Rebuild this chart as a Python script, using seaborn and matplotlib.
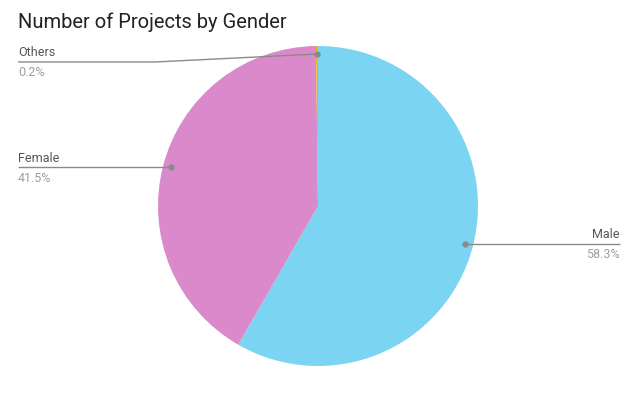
import numpy as np
import matplotlib.pyplot as plt
import seaborn as sns

# данные
genders = ['Male', 'Female', 'Others']
shares = [58.3, 41.5, 0.2]
colors = ['#7ad4f2', '#da8aca', '#f6b400']

sns.set_theme(style='white')
plt.rcParams['font.family'] = ['Roboto', 'DejaVu Sans']

W, H = 644, 393
fig = plt.figure(figsize=(W / 100, H / 100), dpi=100)
ax = fig.add_axes([0, 0, 1, 1])

cx, cy, r = 318, H - 206, 160
wedges, _ = ax.pie(shares, colors=colors, startangle=90, counterclock=False,
                   center=(cx, cy), radius=r, wedgeprops=dict(linewidth=0))
ax.set_xlim(0, W)
ax.set_ylim(0, H)
ax.set_aspect('equal')
ax.axis('off')

fig.text(18 / W, 1 - 22 / H, 'Number of Projects by Gender', fontsize=14.5,
         color='#212121', va='center', ha='left')

# подписи с выносками: (y линии в пикселях, сторона, x излома)
label_rows = {'Male': (244, 'right', None), 'Female': (167, 'left', None),
              'Others': (62, 'left', 155)}
total = sum(shares)
for w, name, val in zip(wedges, genders, shares):
    mid = np.deg2rad((w.theta1 + w.theta2) / 2)
    px, py = cx + 0.95 * r * np.cos(mid), cy + 0.95 * r * np.sin(mid)
    ly, side, elbow = label_rows[name]
    ly = H - ly
    tx = 620 if side == 'right' else 18
    xs, ys = [px], [py]
    if elbow is not None:
        xs.append(elbow)
        ys.append(ly)
    else:
        ys[0] = ly
        py = ly
    xs.append(tx)
    ys.append(ly)
    ax.plot(xs, ys, color='#8a8a8a', lw=1.0, solid_capstyle='butt')
    ax.plot(px, py, 'o', color='#8a8a8a', ms=3.5)
    ha = 'right' if side == 'right' else 'left'
    ax.text(tx, ly + 9, name, fontsize=9, color='#555555', ha=ha, va='center')
    ax.text(tx, ly - 11, f'{val / total * 100:.1f}%', fontsize=9, color='#9e9e9e',
            ha=ha, va='center')

plt.savefig('out.png', dpi=100)
